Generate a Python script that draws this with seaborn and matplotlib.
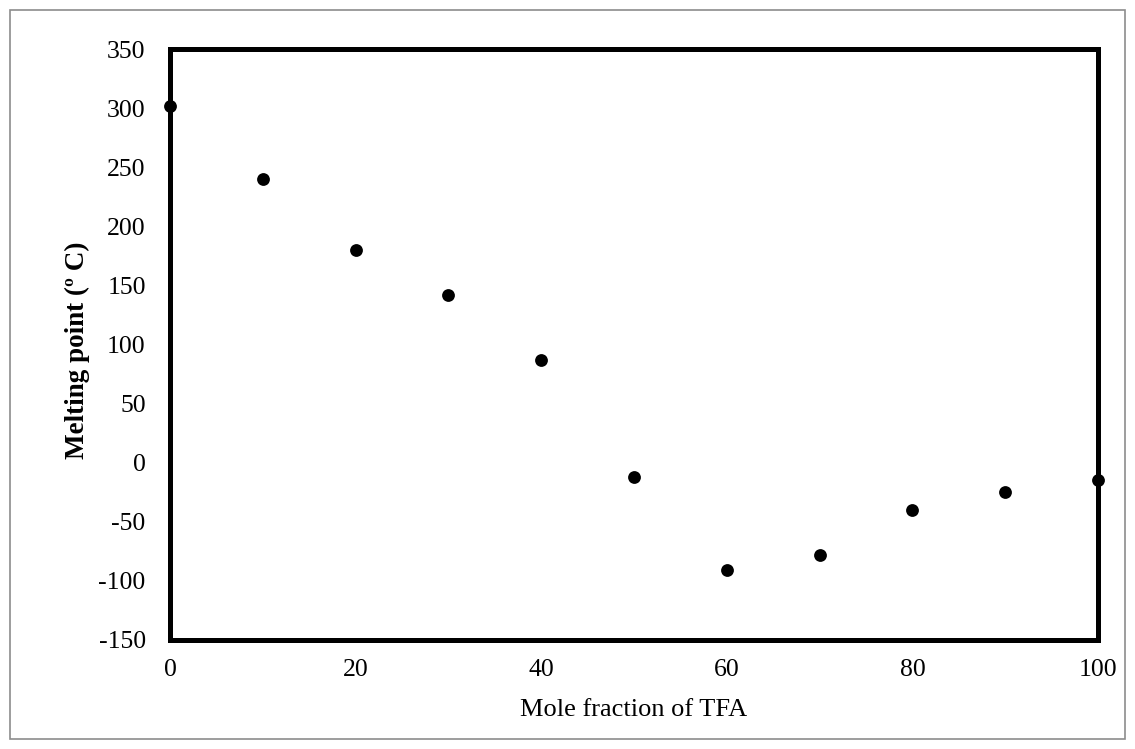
import matplotlib
matplotlib.use("Agg")
import matplotlib.pyplot as plt
import seaborn as sns
import pandas as pd
from matplotlib.patches import Rectangle

mole_fraction = [0, 10, 20, 30, 40, 50, 60, 70, 80, 90, 100]
melting_point = [302, 240, 180, 142, 87, -12, -91, -78, -40, -25, -15]
x_ticks = [0, 20, 40, 60, 80, 100]
y_ticks = [-150, -100, -50, 0, 50, 100, 150, 200, 250, 300, 350]

sns.set_theme(style="white")
plt.rcParams['font.family'] = ['Liberation Serif', 'DejaVu Serif']
plt.rcParams['axes.unicode_minus'] = False

df = pd.DataFrame({"x": mole_fraction, "y": melting_point})

fig = plt.figure(figsize=(11.35, 7.49), dpi=100)
ax = fig.add_axes([170/1135, 1-640/749, (1098-170)/1135, (640-49)/749])

sns.scatterplot(data=df, x="x", y="y", ax=ax, color="black", s=85,
                edgecolor="black", linewidth=0, clip_on=False, zorder=5)

ax.set_xlim(0, 100)
ax.set_ylim(-150, 350)
ax.set_xticks(x_ticks)
ax.set_yticks(y_ticks)
ax.tick_params(axis="both", length=0, labelsize=18.5, colors="black")
ax.tick_params(axis="y", pad=17.5)
ax.tick_params(axis="x", pad=14)
for sp in ax.spines.values():
    sp.set_visible(True)
    sp.set_linewidth(3.6)
    sp.set_color("black")
ax.set_xlabel("Mole fraction of TFA", fontsize=19, color="black", labelpad=12.5)
ax.set_ylabel("Melting point (º C)", fontsize=19.5, fontweight="bold", color="black", labelpad=6)
ax.yaxis.set_label_coords(-0.086, 0.49)
ax.grid(False)

fig.patches.append(Rectangle((10/1135, 10/749), 1115/1135, 729/749, transform=fig.transFigure,
                             fill=False, edgecolor="#8c8c8c", linewidth=1.2))

fig.savefig("out.png", dpi=100)
